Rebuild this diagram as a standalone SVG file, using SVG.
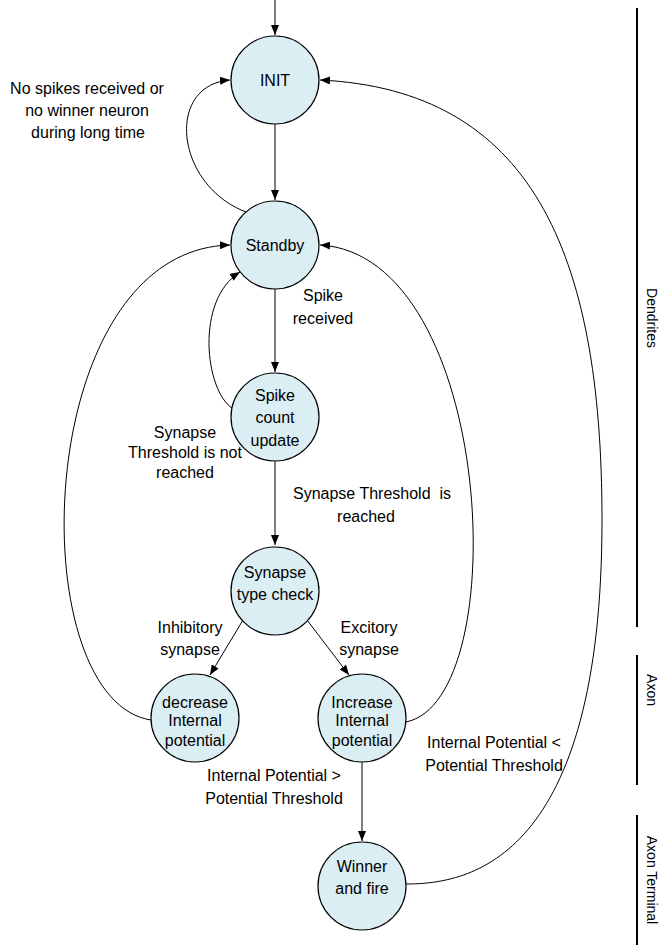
<svg xmlns="http://www.w3.org/2000/svg" width="667" height="949" viewBox="0 0 667 949">
<style>
.node circle{fill:#DAEEF3;stroke:#000;stroke-width:1.2}
text{font-family:"Liberation Sans",Arial,sans-serif;font-size:16px;fill:#000}
.c{text-anchor:middle}
.edge{fill:none;stroke:#000;stroke-width:1}
.side{stroke:#000;stroke-width:2}
.sl{font-size:14px;text-anchor:middle}
</style>
<defs>
<marker id="ah" markerUnits="userSpaceOnUse" markerWidth="11" markerHeight="8" refX="10" refY="4" orient="auto">
<path d="M0,0 L10,4 L0,8 z" fill="#000"/>
</marker>
</defs>
<g id="connectors">
<path class="edge" d="M275,0 L275,35" marker-end="url(#ah)"/>
<path class="edge" d="M275,124 L275,200" marker-end="url(#ah)"/>
<path class="edge" d="M246,212 C175,185 165,85 230,80" marker-end="url(#ah)"/>
<path class="edge" d="M275,289 L275,372" marker-end="url(#ah)"/>
<path class="edge" d="M232,408 C205,390 195,300 240,272" marker-end="url(#ah)"/>
<path class="edge" d="M275,461 L275,545" marker-end="url(#ah)"/>
<path class="edge" d="M243,620 L210,675" marker-end="url(#ah)"/>
<path class="edge" d="M307,620 L349,675" marker-end="url(#ah)"/>
<path class="edge" d="M151,720 C20,700 30,250 230,245" marker-end="url(#ah)"/>
<path class="edge" d="M406,722 C515,700 495,255 320,245" marker-end="url(#ah)"/>
<path class="edge" d="M362,762 L362,841" marker-end="url(#ah)"/>
<path class="edge" d="M406,884 C470,884 602,860 602,520 C602,250 530,90 320,80" marker-end="url(#ah)"/>
</g>
<g id="labels">
<text class="c" x="87" y="94">No spikes received or</text>
<text class="c" x="87" y="116">no winner neuron</text>
<text class="c" x="88" y="138">during long time</text>
<text class="c" x="323" y="301">Spike</text>
<text class="c" x="323" y="324">received</text>
<text class="c" x="185" y="438">Synapse</text>
<text class="c" x="185" y="458">Threshold is not</text>
<text class="c" x="185" y="478">reached</text>
<text class="c" x="372" y="499" xml:space="preserve">Synapse Threshold  is</text>
<text class="c" x="366" y="522">reached</text>
<text class="c" x="190" y="633">Inhibitory</text>
<text class="c" x="190" y="655">synapse</text>
<text class="c" x="369" y="633">Excitory</text>
<text class="c" x="369" y="655">synapse</text>
<text class="c" x="494" y="748">Internal Potential &lt;</text>
<text class="c" x="494" y="771">Potential Threshold</text>
<text class="c" x="274" y="781">Internal Potential &gt;</text>
<text class="c" x="274" y="804">Potential Threshold</text>
</g>
<g id="node-init" class="node"><circle cx="275" cy="80" r="44"/><text class="c" x="275" y="86">INIT</text></g>
<g id="node-standby" class="node"><circle cx="275" cy="245" r="44"/><text class="c" x="275" y="251">Standby</text></g>
<g id="node-spike" class="node"><circle cx="275" cy="417" r="44"/><text class="c" x="275" y="401">Spike</text><text class="c" x="275" y="423">count</text><text class="c" x="275" y="446">update</text></g>
<g id="node-synapse" class="node"><circle cx="275" cy="591" r="44"/><text class="c" x="275" y="578">Synapse</text><text class="c" x="275" y="600">type check</text></g>
<g id="node-decrease" class="node"><circle cx="195" cy="718" r="44"/><text class="c" x="195" y="708">decrease</text><text class="c" x="195" y="726">Internal</text><text class="c" x="195" y="746">potential</text></g>
<g id="node-increase" class="node"><circle cx="362" cy="718" r="44"/><text class="c" x="362" y="708">Increase</text><text class="c" x="362" y="726">Internal</text><text class="c" x="362" y="746">potential</text></g>
<g id="node-winner" class="node"><circle cx="362" cy="886" r="44"/><text class="c" x="362" y="872">Winner</text><text class="c" x="362" y="894">and fire</text></g>
<g id="regions">
<line class="side" x1="637" y1="8" x2="637" y2="627"/>
<line class="side" x1="637" y1="655" x2="637" y2="785"/>
<line class="side" x1="637" y1="815" x2="637" y2="945"/>
<text class="sl" transform="translate(647,318) rotate(90)">Dendrites</text>
<text class="sl" transform="translate(647,690) rotate(90)">Axon</text>
<text class="sl" transform="translate(647,880) rotate(90)">Axon Terminal</text>
</g>
</svg>
